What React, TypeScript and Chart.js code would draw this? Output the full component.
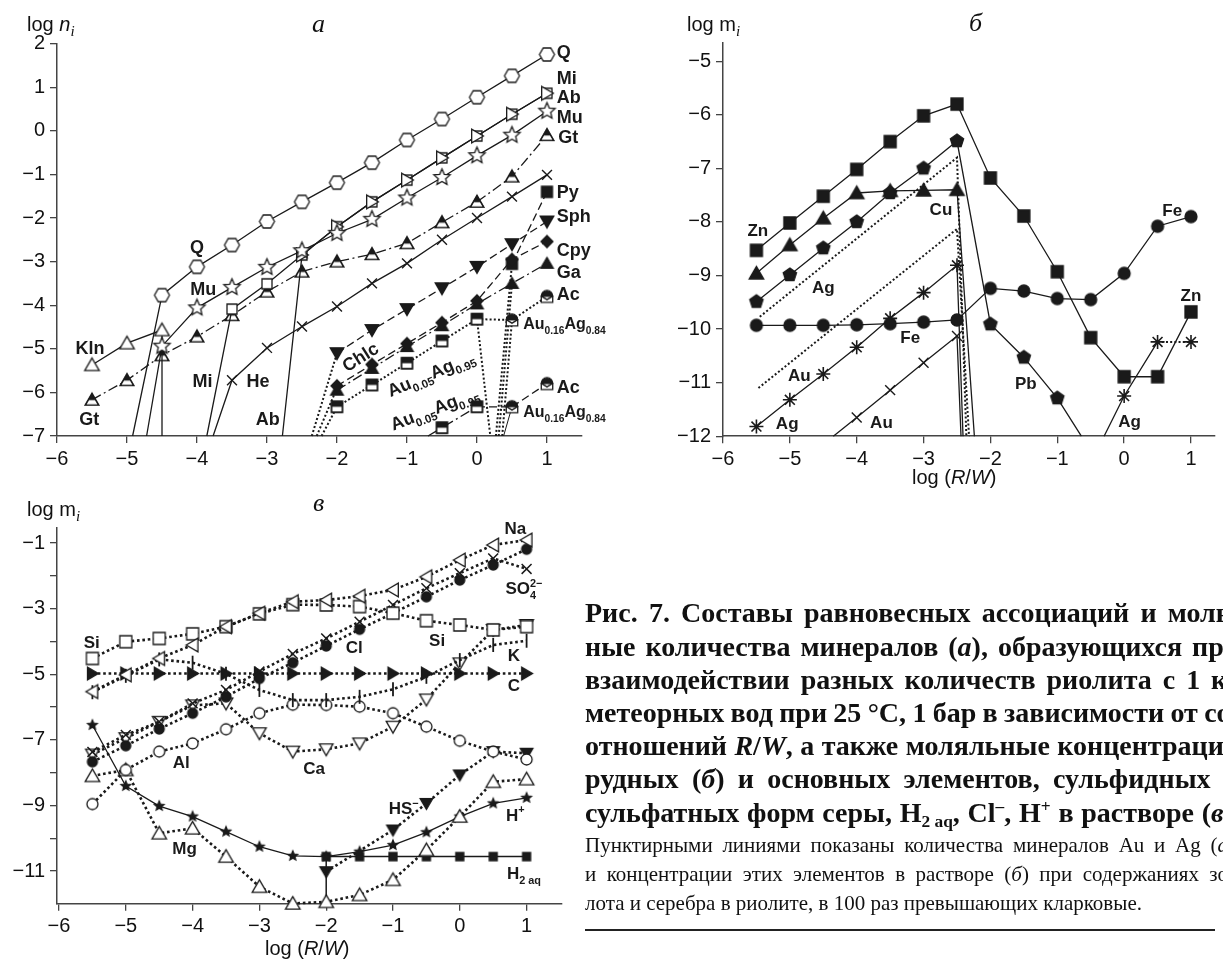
import React, { useEffect, useRef } from 'react';
import { Chart, registerables } from 'chart.js';
Chart.register(...registerables);

type Pt = [number, number, number?];

// ================= Panel а : log n_i =================
const A_XTICKS = [-6, -5, -4, -3, -2, -1, 0, 1];
const A_YTICKS = [-7, -6, -5, -4, -3, -2, -1, 0, 1, 2];
const A_Q: Pt[] = [[-4.92, -7, 0], [-4.5, -3.77], [-4, -3.12], [-3.5, -2.62], [-3, -2.08], [-2.5, -1.63], [-2, -1.19], [-1.5, -0.73], [-1, -0.21], [-0.5, 0.27], [0, 0.77], [0.5, 1.26], [1, 1.75]];
const A_MU: Pt[] = [[-4.72, -7, 0], [-4.5, -4.94], [-4, -4.06], [-3.5, -3.59], [-3, -3.13], [-2.5, -2.75], [-2, -2.35], [-1.5, -2.03], [-1, -1.54], [-0.5, -1.07], [0, -0.57], [0.5, -0.1], [1, 0.45]];
const A_MI: Pt[] = [[-3.86, -7, 0], [-3.5, -4.09], [-3, -3.51], [-2.5, -2.85], [-2, -2.2], [-1.5, -1.63], [-1, -1.13], [-0.5, -0.62], [0, -0.12], [0.5, 0.38], [1, 0.86]];
const A_AB: Pt[] = [[-2.78, -7, 0], [-2.5, -2.85], [-2, -2.2], [-1.5, -1.63], [-1, -1.13], [-0.5, -0.62], [0, -0.12], [0.5, 0.38], [1, 0.86]];
const A_KLN: Pt[] = [[-5.5, -5.37], [-5, -4.87], [-4.5, -4.57], [-4.5, -7, 0]];
const A_GT: Pt[] = [[-5.5, -6.17], [-5, -5.72], [-4.5, -5.15], [-4, -4.72], [-3.5, -4.23], [-3, -3.69], [-2.5, -3.23], [-2, -3.0], [-1.5, -2.83], [-1, -2.58], [-0.5, -2.1], [0, -1.63], [0.5, -1.05], [1, -0.1]];
const A_HE: Pt[] = [[-3.77, -7, 0], [-3.5, -5.72], [-3, -4.98], [-2.5, -4.49], [-2, -4.03], [-1.5, -3.5], [-1, -3.04], [-0.5, -2.5], [0, -2.0], [0.5, -1.51], [1, -1.01]];
const A_SPH: Pt[] = [[-2, -5.1], [-1.5, -4.57], [-1, -4.09], [-0.5, -3.61], [0, -3.12], [0.5, -2.6], [1, -2.08]];
const A_CPY: Pt[] = [[-2, -5.85], [-1.5, -5.36], [-1, -4.88], [-0.5, -4.4], [0, -3.9], [0.5, -2.95], [1, -2.54]];
const A_GA: Pt[] = [[-2, -5.95], [-1.5, -5.45], [-1, -4.95], [-0.5, -4.47], [0, -3.97], [0.5, -3.5], [1, -3.04]];
const A_PY: Pt[] = [[0.5, -3.05], [1, -1.4]];
const A_AUAG95_UP: Pt[] = [[-2.22, -7, 0], [-2, -6.33], [-1.5, -5.83], [-1, -5.33], [-0.5, -4.82], [0, -4.32]];
const A_AUAG84_UP: Pt[] = [[0, -4.32, 0], [0.5, -4.34]];
const A_AC_UP: Pt[] = [[0.5, -4.34, 0], [1, -3.8]];
const A_AUAG95_LO: Pt[] = [[-0.7, -7, 0], [-0.5, -6.81], [0, -6.33]];
const A_AUAG84_LO: Pt[] = [[0, -6.33, 0], [0.5, -6.33]];
const A_AC_LO: Pt[] = [[0.5, -6.33, 0], [1, -5.8]];
const A_DOT1: Pt[] = [[-2.36, -7, 0], [-2, -5.1, 0]];
const A_DOT2: Pt[] = [[-2.29, -7, 0], [-2, -5.9, 0]];
const A_DOT3: Pt[] = [[0, -4.32, 0], [0.19, -7, 0]];
const A_DOT4: Pt[] = [[0.27, -7, 0], [0.5, -3.05, 0]];
const A_DOT5: Pt[] = [[0.31, -7, 0], [0.5, -3.5, 0]];
const A_DOT6: Pt[] = [[0.36, -7, 0], [0.5, -4.34, 0]];
const A_THIN: Pt[] = [[0.5, -6.33, 0], [0.38, -7, 0]];

// ================= Panel б : log m_i (ore elements) =================
const B_XTICKS = [-6, -5, -4, -3, -2, -1, 0, 1];
const B_YTICKS = [-12, -11, -10, -9, -8, -7, -6, -5];
const B_ZN: Pt[] = [[-5.5, -8.53], [-5, -8.02], [-4.5, -7.52], [-4, -7.02], [-3.5, -6.5], [-3, -6.02], [-2.5, -5.8], [-2, -7.18], [-1.5, -7.89], [-1, -8.93], [-0.5, -10.16], [0, -10.89], [0.5, -10.89], [1, -9.68]];
const B_CU: Pt[] = [[-5.5, -8.96], [-5, -8.43], [-4.5, -7.93], [-4, -7.46], [-3.5, -7.42], [-3, -7.41], [-2.5, -7.4], [-2.24, -12, 0]];
const B_PB: Pt[] = [[-5.5, -9.49], [-5, -8.99], [-4.5, -8.49], [-4, -8.0], [-3.5, -7.46], [-3, -7.0], [-2.5, -6.49], [-2, -9.91], [-1.5, -10.53], [-1, -11.29], [-0.64, -12, 0]];
const B_FE: Pt[] = [[-5.5, -9.93], [-5, -9.93], [-4.5, -9.93], [-4, -9.92], [-3.5, -9.9], [-3, -9.87], [-2.5, -9.83], [-2, -9.24], [-1.5, -9.29], [-1, -9.43], [-0.5, -9.45], [0, -8.96], [0.5, -8.08], [1, -7.9]];
const B_AG1: Pt[] = [[-5.5, -11.82], [-5, -11.32], [-4.5, -10.84], [-4, -10.34], [-3.5, -9.8], [-3, -9.32], [-2.5, -8.81], [-2.41, -12, 0]];
const B_AG2: Pt[] = [[-0.3, -12, 0], [0, -11.25], [0.5, -10.24]];
const B_AG3: Pt[] = [[0.5, -10.24, 0], [1, -10.24]];
const B_AU: Pt[] = [[-4.35, -12, 0], [-4, -11.65], [-3.5, -11.14], [-3, -10.63], [-2.5, -10.13], [-2.44, -12, 0]];
const B_AG100: Pt[] = [[-5.45, -9.77, 0], [-2.5, -6.8, 0], [-2.36, -12, 0]];
const B_AU100: Pt[] = [[-5.47, -11.1, 0], [-2.5, -8.13, 0], [-2.32, -12, 0]];

// ================= Panel в : log m_i (main elements) =================
const V_XTICKS = [-6, -5, -4, -3, -2, -1, 0, 1];
const V_YTICKS = [-11, -10, -9, -8, -7, -6, -5, -4, -3, -2, -1];
const V_X = [-5.5, -5, -4.5, -4, -3.5, -3, -2.5, -2, -1.5, -1, -0.5, 0, 0.5, 1];
const V_NA = [-5.53, -5.02, -4.52, -4.11, -3.55, -3.14, -2.79, -2.74, -2.62, -2.43, -2.03, -1.52, -1.06, -0.91];
const V_SI = [-4.52, -4.01, -3.91, -3.77, -3.55, -3.16, -2.88, -2.89, -2.94, -3.14, -3.37, -3.5, -3.65, -3.55];
const V_CL = [-7.67, -7.18, -6.67, -6.19, -5.69, -5.13, -4.65, -4.14, -3.63, -3.14, -2.64, -2.13, -1.67, -1.19];
const V_SO4 = [-7.37, -6.85, -6.45, -5.89, -5.48, -4.92, -4.38, -3.91, -3.4, -2.89, -2.38, -1.92, -1.47, -1.79];
const V_C = [-4.98, -4.98, -4.98, -4.98, -4.98, -4.98, -4.98, -4.98, -4.98, -4.98, -4.98, -4.98, -4.98, -4.98];
const V_K = [-5.55, -5.05, -4.55, -4.65, -4.99, -5.48, -5.79, -5.79, -5.69, -5.46, -5.08, -4.57, -4.11, -3.98];
const V_AL = [-8.96, -7.92, -7.36, -7.11, -6.68, -6.19, -5.93, -5.94, -5.99, -6.19, -6.6, -7.03, -7.36, -7.6];
const V_CA = [-7.45, -6.95, -6.45, -5.95, -5.89, -6.8, -7.36, -7.29, -7.11, -6.6, -5.77, -4.67, -3.65, -3.5];
const V_MG = [-8.1, -7.92, -9.85, -9.7, -10.56, -11.48, -11.99, -11.94, -11.73, -11.27, -10.36, -9.34, -8.28, -8.2];
const V_HP = [-6.55, -8.41, -9.02, -9.34, -9.8, -10.26, -10.54, -10.56, -10.41, -10.21, -9.82, -9.34, -8.94, -8.77];
const V_H2: Pt[] = [[-2, -11.95, 0], [-2, -10.56], [-1.5, -10.56], [-1, -10.56], [-0.5, -10.56], [0, -10.56], [0.5, -10.56], [1, -10.56]];
const V_HS: Pt[] = [[-2, -11.02], [-1, -9.75], [-0.5, -8.94], [0, -8.07], [0.5, -7.36], [1, -7.41]];

const zipV = (ys: number[]): Pt[] => V_X.map((x, i) => [x, ys[i]] as Pt);

// ================= helpers =================
const SANS = '"Liberation Sans", Arial, Helvetica, sans-serif';
const SERIF = '"Liberation Serif", "Times New Roman", serif';
const INK = '#1a1a1a';
const fmt = (v: number) => (v < 0 ? '\u2212' + Math.abs(v) : String(v));

function mk(kind: string, size: number, lw = 1.3): HTMLCanvasElement {
  const W = Math.ceil(size + 8);
  const c = document.createElement('canvas');
  c.width = W; c.height = W;
  const g = c.getContext('2d')!;
  const m = W / 2, r = size / 2;
  g.lineWidth = lw; g.strokeStyle = INK; g.fillStyle = INK; g.lineJoin = 'miter';
  const path = (pts: number[][]) => { g.beginPath(); pts.forEach((p, i) => (i ? g.lineTo(m + p[0], m + p[1]) : g.moveTo(m + p[0], m + p[1]))); g.closePath(); };
  const reg = (n: number, rr: number, a0: number) => Array.from({ length: n }, (_, i) => { const a = a0 + (i * 2 * Math.PI) / n; return [rr * Math.cos(a), rr * Math.sin(a)]; });
  const open = () => { g.fillStyle = '#fff'; g.fill(); g.stroke(); };
  const full = () => { g.fillStyle = INK; g.fill(); g.stroke(); };
  const tri = (a0: number, dx: number, dy: number) => reg(3, r * 1.12, a0).map(([x, y]) => [x + dx, y + dy]);
  switch (kind) {
    case 'hex': path(reg(6, r, 0)); open(); break;
    case 'star5': case 'star5f': {
      const pts: number[][] = [];
      for (let i = 0; i < 10; i++) { const a = -Math.PI / 2 + (i * Math.PI) / 5; const rr = i % 2 ? r * 0.46 : r; pts.push([rr * Math.cos(a), rr * Math.sin(a)]); }
      path(pts); kind === 'star5' ? open() : full(); break;
    }
    case 'triU': path(tri(-Math.PI / 2, 0, r * 0.2)); open(); break;
    case 'triUf': path(tri(-Math.PI / 2, 0, r * 0.2)); full(); break;
    case 'triD': path(tri(Math.PI / 2, 0, -r * 0.2)); open(); break;
    case 'triDf': path(tri(Math.PI / 2, 0, -r * 0.2)); full(); break;
    case 'triR': path(tri(0, -r * 0.2, 0)); open(); break;
    case 'triRf': path(tri(0, -r * 0.2, 0)); full(); break;
    case 'triL': path(tri(Math.PI, r * 0.2, 0)); open(); break;
    case 'triUhalf': {
      const pts = tri(-Math.PI / 2, 0, r * 0.2);
      path(pts); open();
      g.save(); path(pts); g.clip(); g.fillStyle = INK; g.fillRect(0, 0, W, m + r * 0.05); g.restore();
      path(pts); g.stroke(); break;
    }
    case 'sq': path([[-r, -r], [r, -r], [r, r], [-r, r]]); open(); break;
    case 'sqf': path([[-r, -r], [r, -r], [r, r], [-r, r]]); full(); break;
    case 'sqHalf': {
      path([[-r, -r], [r, -r], [r, r], [-r, r]]); open();
      g.fillStyle = INK; g.fillRect(m - r, m - r, 2 * r, r); path([[-r, -r], [r, -r], [r, r], [-r, r]]); g.stroke(); break;
    }
    case 'circ': g.beginPath(); g.arc(m, m, r, 0, Math.PI * 2); open(); break;
    case 'circf': g.beginPath(); g.arc(m, m, r, 0, Math.PI * 2); full(); break;
    case 'pentf': path(reg(5, r, -Math.PI / 2)); full(); break;
    case 'diaf': path([[0, -r], [r, 0], [0, r], [-r, 0]]); full(); break;
    case 'acm': {
      const t = -0.05 * r, s = 0.82 * r;
      path([[-s, t], [s, t], [s, t + 0.9 * r], [-s, t + 0.9 * r]]); open();
      g.beginPath(); g.moveTo(m - s, m + t); g.lineTo(m, m + t + 0.5 * r); g.lineTo(m + s, m + t); g.stroke();
      g.beginPath(); g.arc(m, m + t, s, Math.PI, 2 * Math.PI); g.closePath(); full(); break;
    }
  }
  return c;
}

const DASH: Record<string, number[]> = { solid: [], dash: [8, 4], dashdot: [10, 3.5, 2, 3.5], dot: [2, 2.2], dotb: [2.6, 2.8] };

function ds(pts: Pt[], style: any, r: number, line: string, o: any = {}) {
  return {
    data: pts.map((p) => ({ x: p[0], y: p[1], m: p[2] !== 0 })),
    showLine: line !== 'none',
    borderColor: INK,
    borderWidth: o.lw ?? (line === 'dot' ? 2 : line === 'dotb' ? 2.6 : 1.3),
    borderDash: DASH[line] ?? [],
    borderCapStyle: 'butt',
    pointStyle: style,
    pointRadius: (c: any) => (c.raw && c.raw.m ? r : 0),
    pointBorderColor: INK,
    pointBackgroundColor: o.bg ?? INK,
    pointBorderWidth: o.bw ?? 1.3,
    pointRotation: o.rot ?? 0,
    tension: 0,
    clip: false,
  };
}

type Part = { t: string; s?: 'sub' | 'sup'; k?: boolean };
type Lbl = { x: number; y: number; p: Part[]; al?: 'left' | 'center'; rot?: number; sz?: number };
const T = (t: string): Part[] => [{ t }];

function labelPlugin(items: Lbl[], size0: number) {
  return {
    id: 'plotLabels',
    afterDatasetsDraw(chart: any) {
      const ctx = chart.ctx; const xs = chart.scales.x; const ys = chart.scales.y;
      const f = (sz: number) => `bold ${sz}px ${SANS}`;
      items.forEach((L) => {
        const size = L.sz ?? size0;
        const ss = size * 0.64;
        const px = xs.getPixelForValue(L.x), py = ys.getPixelForValue(L.y);
        ctx.save();
        const ws: number[] = []; let total = 0;
        L.p.forEach((p) => { ctx.font = f(p.s ? ss : size); const w = ctx.measureText(p.t).width; ws.push(w); if (!p.k) total += w; });
        ctx.translate(px, py);
        if (L.rot) ctx.rotate((L.rot * Math.PI) / 180);
        let cx = (L.al ?? 'center') === 'center' ? -total / 2 : 0;
        ctx.fillStyle = INK; ctx.textAlign = 'left'; ctx.textBaseline = 'alphabetic';
        const base = size * 0.36;
        L.p.forEach((p, i) => {
          ctx.font = f(p.s ? ss : size);
          const dy = p.s === 'sub' ? size * 0.28 : p.s === 'sup' ? -size * 0.45 : 0;
          ctx.fillText(p.t, cx, base + dy);
          if (!p.k) cx += ws[i];
        });
        ctx.restore();
      });
    },
  };
}

type PanelCfg = {
  pad: any; yW: number; xH: number;
  xMin: number; xMax: number; yMin: number; yMax: number;
  xTicks: number[]; yTicks: number[]; yLab?: (v: number) => string;
  datasets: any[]; labels: Lbl[]; labelSize: number;
};

function buildConfig(p: PanelCfg): any {
  const tickFont = { family: SANS, size: 20 };
  const grid = { drawOnChartArea: false, drawTicks: true, tickLength: 7, color: '#444', lineWidth: 1.3 };
  const border = { display: true, color: '#444', width: 1.5 };
  return {
    type: 'scatter',
    data: { datasets: p.datasets },
    options: {
      animation: false, responsive: false, events: [],
      layout: { padding: p.pad },
      plugins: { legend: { display: false }, tooltip: { enabled: false } },
      scales: {
        x: {
          type: 'linear', min: p.xMin, max: p.xMax, grid, border,
          ticks: { font: tickFont, color: '#111', padding: 4, maxRotation: 0, autoSkip: false, callback: (v: number) => fmt(v) },
          afterBuildTicks: (s: any) => { s.ticks = p.xTicks.map((v) => ({ value: v })); },
          afterFit: (s: any) => { s.height = p.xH; },
        },
        y: {
          type: 'linear', min: p.yMin, max: p.yMax, grid, border,
          ticks: { font: tickFont, color: '#111', padding: 5, autoSkip: false, callback: (v: number) => (p.yLab ? p.yLab(v) : fmt(v)) },
          afterBuildTicks: (s: any) => { s.ticks = p.yTicks.map((v) => ({ value: v })); },
          afterFit: (s: any) => { s.width = p.yW; },
        },
      },
    },
    plugins: [labelPlugin(p.labels, p.labelSize)],
  };
}

function panelA(): PanelCfg {
  const M = {
    hex: mk('hex', 15), star: mk('star5', 17), sq: mk('sq', 10), triR: mk('triR', 14), triU: mk('triU', 15),
    gt: mk('triUhalf', 14), triDf: mk('triDf', 14), triUf: mk('triUf', 13), dia: mk('diaf', 12), sqf: mk('sqf', 11),
    sqh: mk('sqHalf', 11), acm: mk('acm', 14),
  };
  const datasets = [
    ds(A_Q, M.hex, 7, 'solid'),
    ds(A_MU, M.star, 8, 'solid'),
    ds(A_AB, M.triR, 7, 'solid'),
    ds(A_MI, M.sq, 6, 'solid'),
    ds(A_KLN, M.triU, 7, 'solid'),
    ds(A_GT, M.gt, 7, 'dashdot'),
    ds(A_HE, 'crossRot', 7, 'solid', { bw: 1.4 }),
    ds(A_SPH, M.triDf, 7, 'dash'),
    ds(A_CPY, M.dia, 6, 'dash'),
    ds(A_GA, M.triUf, 7, 'dashdot'),
    ds(A_PY, M.sqf, 6, 'dash'),
    ds(A_AUAG95_UP, M.sqh, 6, 'dot'),
    ds(A_AUAG84_UP, M.acm, 7, 'dot'),
    ds(A_AC_UP, M.acm, 7, 'dot'),
    ds(A_AUAG95_LO, M.sqh, 6, 'dashdot'),
    ds(A_AUAG84_LO, M.acm, 7, 'dash'),
    ds(A_AC_LO, M.acm, 7, 'dash'),
    ds(A_DOT1, 'circle', 0, 'dot'),
    ds(A_DOT2, 'circle', 0, 'dot'),
    ds(A_DOT3, 'circle', 0, 'dot'),
    ds(A_DOT4, 'circle', 0, 'dot'),
    ds(A_DOT5, 'circle', 0, 'dot'),
    ds(A_DOT6, 'circle', 0, 'dot'),
    ds(A_THIN, 'circle', 0, 'solid', { lw: 1 }),
  ];
  const sub = (t: string): Part => ({ t, s: 'sub' });
  const auag = (a: string, b: string): Part[] => [{ t: 'Au' }, sub(a), { t: 'Ag' }, sub(b)];
  const labels: Lbl[] = [
    { x: 1.14, y: 1.81, p: T('Q'), al: 'left' },
    { x: 1.14, y: 1.23, p: T('Mi'), al: 'left' },
    { x: 1.14, y: 0.78, p: T('Ab'), al: 'left' },
    { x: 1.14, y: 0.32, p: T('Mu'), al: 'left' },
    { x: 1.16, y: -0.14, p: T('Gt'), al: 'left' },
    { x: 1.14, y: -1.4, p: T('Py'), al: 'left' },
    { x: 1.14, y: -1.95, p: T('Sph'), al: 'left' },
    { x: 1.14, y: -2.73, p: T('Cpy'), al: 'left' },
    { x: 1.14, y: -3.23, p: T('Ga'), al: 'left' },
    { x: 1.14, y: -3.73, p: T('Ac'), al: 'left' },
    { x: 0.66, y: -4.42, p: auag('0.16', '0.84'), al: 'left', sz: 16 },
    { x: 1.14, y: -5.87, p: T('Ac'), al: 'left' },
    { x: 0.66, y: -6.44, p: auag('0.16', '0.84'), al: 'left', sz: 16 },
    { x: -1.67, y: -5.18, p: T('Chlc'), rot: -32 },
    { x: -0.66, y: -5.56, p: auag('0.05', '0.95'), rot: -23 },
    { x: -0.61, y: -6.36, p: auag('0.05', '0.95'), rot: -21 },
    { x: -4.0, y: -2.66, p: T('Q') },
    { x: -3.91, y: -3.61, p: T('Mu') },
    { x: -5.53, y: -4.98, p: T('Kln') },
    { x: -5.54, y: -6.59, p: T('Gt') },
    { x: -3.92, y: -5.72, p: T('Mi') },
    { x: -3.13, y: -5.72, p: T('He') },
    { x: -2.99, y: -6.59, p: T('Ab') },
  ];
  return {
    pad: { left: 0, top: 43.6, right: 58, bottom: 0 }, yW: 57, xH: 34,
    xMin: -6, xMax: 1.5, yMin: -7, yMax: 2, xTicks: A_XTICKS, yTicks: A_YTICKS,
    datasets, labels, labelSize: 18,
  };
}

function panelB(): PanelCfg {
  const M = { sqf: mk('sqf', 12), triUf: mk('triUf', 15), pentf: mk('pentf', 14), circf: mk('circf', 12) };
  const datasets = [
    ds(B_ZN, M.sqf, 7, 'solid'),
    ds(B_CU, M.triUf, 7, 'solid'),
    ds(B_PB, M.pentf, 7, 'solid'),
    ds(B_FE, M.circf, 7, 'solid'),
    ds(B_AG1, 'star', 7, 'solid', { bw: 1.6 }),
    ds(B_AG2, 'star', 7, 'solid', { bw: 1.6 }),
    ds(B_AG3, 'star', 7, 'dot', { bw: 1.6 }),
    ds(B_AU, 'crossRot', 7, 'solid', { bw: 1.4 }),
    ds(B_AG100, 'circle', 0, 'dot'),
    ds(B_AU100, 'circle', 0, 'dot'),
  ];
  const labels: Lbl[] = [
    { x: -5.48, y: -8.15, p: T('Zn') },
    { x: -4.5, y: -9.22, p: T('Ag') },
    { x: -2.74, y: -7.75, p: T('Cu') },
    { x: -3.2, y: -10.14, p: T('Fe') },
    { x: -4.86, y: -10.86, p: T('Au') },
    { x: -5.04, y: -11.75, p: T('Ag') },
    { x: -3.63, y: -11.73, p: T('Au') },
    { x: -1.47, y: -11.01, p: T('Pb') },
    { x: 0.08, y: -11.71, p: T('Ag') },
    { x: 1.0, y: -9.37, p: T('Zn') },
    { x: 0.72, y: -7.78, p: T('Fe') },
  ];
  return {
    pad: { left: 0, top: 43, right: 5.3, bottom: 0 }, yW: 123, xH: 43.8,
    xMin: -6, xMax: 1.35, yMin: -12, yMax: -4.66, xTicks: B_XTICKS, yTicks: B_YTICKS,
    datasets, labels, labelSize: 17,
  };
}

function panelV(): PanelCfg {
  const M = {
    triL: mk('triL', 14), sq: mk('sq', 12), circf: mk('circf', 10), triRf: mk('triRf', 13), circ: mk('circ', 11),
    triD: mk('triD', 14), triU: mk('triU', 15), star5f: mk('star5f', 10), sqf: mk('sqf', 8), triDf: mk('triDf', 13),
  };
  const datasets = [
    ds(zipV(V_NA), M.triL, 7, 'dotb'),
    ds(zipV(V_SI), M.sq, 6, 'dotb'),
    ds(zipV(V_SO4), 'crossRot', 7, 'dotb', { bw: 1.5 }),
    ds(zipV(V_CL), M.circf, 5, 'dotb'),
    ds(zipV(V_C), M.triRf, 6, 'dotb'),
    ds(zipV(V_K), 'line', 7, 'dotb', { rot: 90, bw: 1.8 }),
    ds(zipV(V_AL), M.circ, 6, 'dotb'),
    ds(zipV(V_CA), M.triD, 7, 'dotb'),
    ds(zipV(V_MG), M.triU, 7, 'dotb'),
    ds(zipV(V_HP), M.star5f, 5, 'solid'),
    ds(V_H2, M.sqf, 4, 'solid', { lw: 1.5 }),
    ds(V_HS, M.triDf, 7, 'dotb'),
  ];
  const labels: Lbl[] = [
    { x: 0.83, y: -0.55, p: T('Na') },
    { x: 0.96, y: -2.38, p: [{ t: 'SO' }, { t: '4', s: 'sub', k: true }, { t: '2\u2212', s: 'sup' }] },
    { x: -0.34, y: -3.94, p: T('Si') },
    { x: -1.58, y: -4.16, p: T('Cl') },
    { x: 0.81, y: -4.41, p: T('K') },
    { x: 0.81, y: -5.33, p: T('C') },
    { x: -5.51, y: -4.01, p: T('Si') },
    { x: -4.17, y: -7.67, p: T('Al') },
    { x: -2.18, y: -7.87, p: T('Ca') },
    { x: -4.12, y: -10.31, p: T('Mg') },
    { x: -0.84, y: -9.09, p: [{ t: 'HS' }, { t: '\u2212', s: 'sup' }] },
    { x: 0.83, y: -9.29, p: [{ t: 'H' }, { t: '+', s: 'sup' }] },
    { x: 0.96, y: -11.07, p: [{ t: 'H' }, { t: '2 aq', s: 'sub' }] },
  ];
  return {
    pad: { left: 0, top: 47.9, right: 38, bottom: 0 }, yW: 57, xH: 56.2,
    xMin: -6.03, xMax: 1.53, yMin: -12, yMax: -0.54, xTicks: V_XTICKS, yTicks: V_YTICKS,
    yLab: (v: number) => (Math.abs(v) % 2 === 1 ? fmt(v) : ''),
    datasets, labels, labelSize: 17,
  };
}

function ChartBox({ make, left, top, w, h }: { make: () => PanelCfg; left: number; top: number; w: number; h: number }) {
  const ref = useRef<HTMLCanvasElement>(null);
  useEffect(() => {
    const chart = new Chart(ref.current as HTMLCanvasElement, buildConfig(make()));
    return () => chart.destroy();
  }, [make]);
  return (
    <canvas ref={ref} width={w} height={h}
      style={{ position: 'absolute', left, top, width: w, height: h }} />
  );
}

const sup = (t: string) => <span style={{ fontSize: '0.62em', position: 'relative', top: '-0.55em' }}>{t}</span>;
const sub = (t: string) => <span style={{ fontSize: '0.62em', position: 'relative', top: '0.3em' }}>{t}</span>;

const CAP_BOLD: React.ReactNode[][] = [
  ['Рис.', '7.', 'Составы', 'равновесных', 'ассоциаций', 'и', 'моль-'],
  ['ные', 'количества', 'минералов', <>(<i>а</i>),</>, 'образующихся', 'при'],
  ['взаимодействии', 'разных', 'количеств', 'риолита', 'с', '1', 'кг'],
  ['метеорных', 'вод', 'при', '25', '°С,', '1', 'бар', 'в', 'зависимости', 'от', 'со-'],
  ['отношений', <><i>R</i>/<i>W</i>,</>, 'а', 'также', 'моляльные', 'концентрации'],
  ['рудных', <>(<i>б</i>)</>, 'и', 'основных', 'элементов,', 'сульфидных', 'и'],
  ['сульфатных', 'форм', 'серы,', <>H{sub('2 aq')},</>, <>Cl{sup('–')},</>, <>H{sup('+')}</>, 'в', 'растворе', <>(<i>в</i>).</>],
];
const CAP_SMALL: React.ReactNode[][] = [
  ['Пунктирными', 'линиями', 'показаны', 'количества', 'минералов', 'Au', 'и', 'Ag', <>(<i>а</i>)</>],
  ['и', 'концентрации', 'этих', 'элементов', 'в', 'растворе', <>(<i>б</i>)</>, 'при', 'содержаниях', 'зо-'],
];
const CAP_LAST = 'лота и серебра в риолите, в 100 раз превышающих кларковые.';

function JLine({ words, top, size, lh, width, bold }: { words: React.ReactNode[]; top: number; size: number; lh: number; width: number; bold: boolean }) {
  return (
    <div style={{ position: 'absolute', left: 585, top, width, height: lh, lineHeight: lh + 'px', fontSize: size, fontWeight: bold ? 'bold' : 'normal', display: 'flex', justifyContent: 'space-between', whiteSpace: 'nowrap', fontFamily: SERIF, color: '#111' }}>
      {words.map((w, i) => <span key={i}>{w}</span>)}
    </div>
  );
}

export default function App() {
  const axisText: React.CSSProperties = { position: 'absolute', fontFamily: SANS, fontSize: 20, lineHeight: '24px', color: '#111', whiteSpace: 'nowrap' };
  const panelTitle: React.CSSProperties = { position: 'absolute', fontFamily: SERIF, fontStyle: 'italic', fontSize: 26, lineHeight: '30px', color: '#111' };
  const subI: React.CSSProperties = { fontFamily: SERIF, fontSize: 15, position: 'relative', top: 5 };
  return (
    <div style={{ position: 'absolute', left: 0, top: 0, width: 1223, height: 960, overflow: 'hidden', background: '#fff' }}>
      <ChartBox make={panelB} left={600} top={0} w={623} h={480} />
      <ChartBox make={panelA} left={0} top={0} w={640} h={470} />
      <ChartBox make={panelV} left={0} top={480} w={600} h={480} />

      <div style={{ ...axisText, left: 27, top: 12 }}>log <i style={{ fontFamily: SANS }}>n</i><i style={subI}>i</i></div>
      <div style={{ ...panelTitle, left: 312, top: 9 }}>а</div>

      <div style={{ ...axisText, left: 687, top: 12 }}>log m<i style={subI}>i</i></div>
      <div style={{ ...panelTitle, left: 969, top: 8 }}>б</div>
      <div style={{ ...axisText, left: 912, top: 465 }}>log (<i>R</i>/<i>W</i>)</div>

      <div style={{ ...axisText, left: 27, top: 497 }}>log m<i style={subI}>i</i></div>
      <div style={{ ...panelTitle, left: 313, top: 488 }}>в</div>
      <div style={{ ...axisText, left: 265, top: 936 }}>log (<i>R</i>/<i>W</i>)</div>

      {CAP_BOLD.map((w, i) => <JLine key={'b' + i} words={w} top={596.4 + i * 33.2} size={28} lh={33.2} width={655} bold />)}
      {CAP_SMALL.map((w, i) => <JLine key={'s' + i} words={w} top={830.5 + i * 29} size={21} lh={29} width={650} bold={false} />)}
      <div style={{ position: 'absolute', left: 585, top: 830.5 + 2 * 29, height: 29, lineHeight: '29px', fontSize: 21, fontFamily: SERIF, whiteSpace: 'nowrap', color: '#111' }}>{CAP_LAST}</div>
      <div style={{ position: 'absolute', left: 585, top: 929, width: 630, height: 1.5, background: '#222' }} />
    </div>
  );
}
